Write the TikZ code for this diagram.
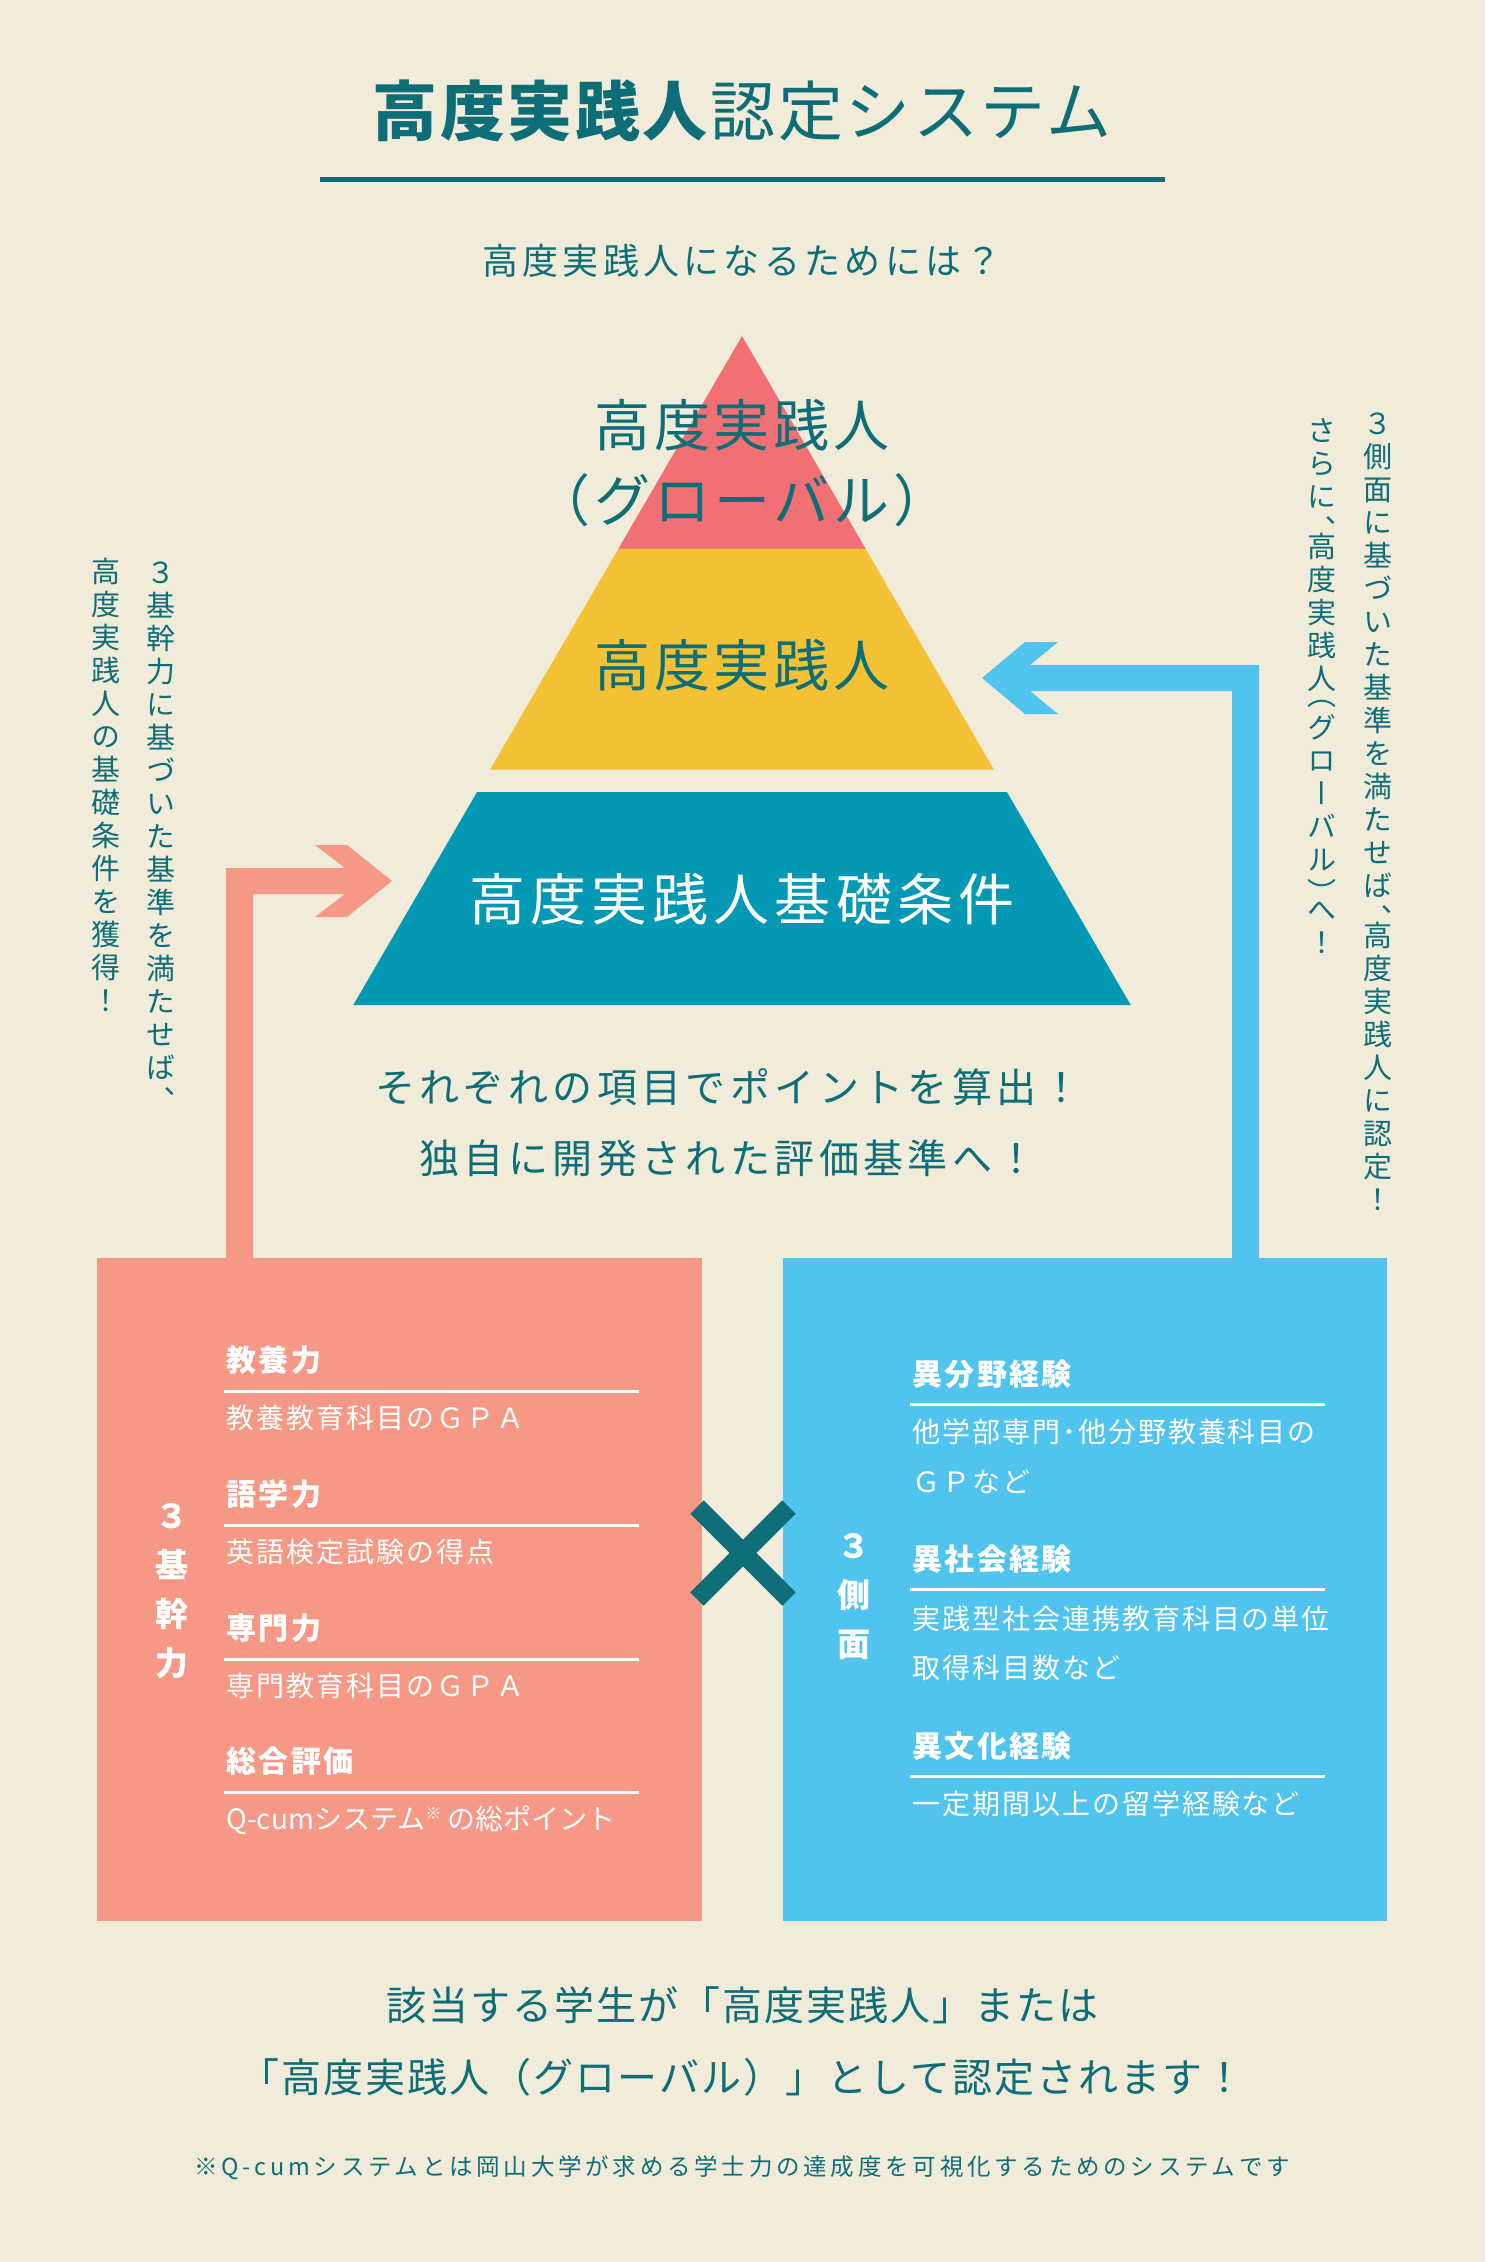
\documentclass[tikz,border=0pt]{standalone}
\usepackage{fontspec}
\setmainfont{Noto Sans CJK JP}
\newfontfamily\tatefont[RawFeature=+vert]{Noto Sans CJK JP}
\definecolor{bg}{HTML}{F1EBDA}
\definecolor{ink}{HTML}{0E6E78}
\definecolor{tred}{HTML}{F07073}
\definecolor{tyellow}{HTML}{F2C134}
\definecolor{tteal}{HTML}{0398B4}
\definecolor{salmon}{HTML}{F69886}
\definecolor{sky}{HTML}{50C3EE}
\newdimen\tatep
\def\tatecell#1#2#3{\hbox to\tatep{\hss\vrule height#2 depth#2 width0pt\smash{\lower#3\hbox{#1}}\hss}}
\def\tateloop#1{\ifx#1\relax\else
	\ifx#1、\tatecell{#1}{.25\tatep}{\dimexpr.38em+.25\tatep\relax}%
	\else\ifx#1）\tatecell{#1}{.25\tatep}{\dimexpr.38em+.25\tatep\relax}%
	\else\ifx#1（\tatecell{#1}{.25\tatep}{\dimexpr.38em-.25\tatep\relax}%
	\else\tatecell{#1}{.5\tatep}{.38em}\fi\fi\fi
	\expandafter\tateloop\fi}
\newcommand\tate[2]{\tatep=#1\relax\vbox{\offinterlineskip\tateloop#2\relax}}
\begin{document}
\begin{tikzpicture}[x=0.5pt, y=-0.5pt, line join=miter]
	\def\cx{742} \def\ay{336} \def\k{0.581}
	\tikzset{declare function = {hw(\yy)= \k*(\yy-\ay);},
		jp/.style 2 args={inner sep=0pt, text height=#1, text depth=#2},
		title/.style={jp={28.6pt}{3.9pt}, text=ink, font={\fontsize{32.5}{32.5}\selectfont\addfontfeatures{LetterSpace=4}}},
		sub/.style={jp={15.84pt}{2.16pt}, text=ink, font={\fontsize{18}{18}\selectfont\addfontfeatures{LetterSpace=12}}},
		pyr/.style={jp={24.64pt}{3.36pt}, text=ink, font={\fontsize{28}{28}\selectfont\addfontfeatures{LetterSpace=7}}},
		mid/.style={jp={17.6pt}{2.4pt}, text=ink, font={\fontsize{20}{20}\selectfont\addfontfeatures{LetterSpace=11}}},
		bottom/.style={jp={17.6pt}{2.4pt}, text=ink, font={\fontsize{20}{20}\selectfont\addfontfeatures{LetterSpace=5}}},
		foot/.style={jp={10.34pt}{1.41pt}, text=ink, font={\fontsize{11.75}{11.75}\selectfont\addfontfeatures{LetterSpace=16}}},
		head/.style={jp={13.2pt}{1.8pt}, text=white, anchor=west, font={\bfseries\fontsize{15}{15}\selectfont\addfontfeatures{LetterSpace=8}}},
		body/.style={jp={12.32pt}{1.68pt}, text=white, anchor=west, font={\fontsize{14}{14}\selectfont\addfontfeatures{LetterSpace=7}}},
		uline/.style={white, line width=1.5pt},
		vlab/.style={inner sep=0pt, text=white, font={\tatefont\bfseries\fontsize{16.5}{16.5}\selectfont}},
		side/.style={inner sep=0pt, anchor=north, text=ink, font={\tatefont\fontsize{14.5}{14.5}\selectfont}}}
	\useasboundingbox (0,0) rectangle (1485,2262);
	\fill[bg] (0,0) rectangle (1485,2262);
	\node[title] (title) at (742,111) {\textbf{高度実践人}認定システム};
	\draw[ink, line width=2.5pt] (320,180) -- (1165,180);
	\node[sub] (ask) at (742,261) {高度実践人になるためには？};
	\fill[tred] (\cx,\ay) -- ({\cx+hw(549)},549) -- ({\cx-hw(549)},549) -- cycle;
	\fill[tyellow] ({\cx-hw(549)},549) -- ({\cx+hw(549)},549) -- ({\cx+hw(769.5)},769.5) -- ({\cx-hw(769.5)},769.5) -- cycle;
	\fill[tteal] ({\cx-hw(792)},792) -- ({\cx+hw(792)},792) -- ({\cx+hw(1005)},1005) -- ({\cx-hw(1005)},1005) -- cycle;
	\node[pyr] (glob) at (742,425) {高度実践人};
	\node[pyr] (globsub) at (742,500) {（グローバル）};
	\node[pyr] (kodo) at (742,665) {高度実践人};
	\node[pyr, text=white, font={\fontsize{28}{28}\selectfont\addfontfeatures{LetterSpace=9}}] (kiso) at (742,899) {高度実践人基礎条件};
	\node[mid] (calc) at (728,1087) {それぞれの項目でポイントを算出！};
	\node[mid] (eval) at (728,1158) {独自に開発された評価基準へ！};
	\fill[salmon] (226,1258) -- (226,868) -- (345,868) -- (315,845) -- (347,845) -- (392,881) -- (347,917) -- (315,917) -- (345,894) -- (253,894) -- (253,1258) -- cycle;
	\fill[sky] (1259,1258) -- (1259,665) -- (1030,665) -- (1058,642) -- (1025,642) -- (982,678) -- (1025,714) -- (1058,714) -- (1030,691) -- (1232,691) -- (1232,1258) -- cycle;
	\fill[salmon] (97,1258) rectangle (702,1921);
	\fill[sky] (783,1258) rectangle (1387,1921);
	\draw[ink, line width=9.5pt] (697,1507) -- (789,1599) (697,1599) -- (789,1507);
	\node[vlab] (kikan) at (172,1589) {\tate{24.5pt}{３基幹力}};
	\node[vlab] (sokumen) at (854,1595) {\tate{24.5pt}{３側面}};
	\foreach \y/\hd/\bd in {1360/教養力/教養教育科目のＧＰＡ, 1494/語学力/英語検定試験の得点, 1628/専門力/専門教育科目のＧＰＡ, 1761/総合評価/{\addfontfeatures{LetterSpace=0}Q-cumシステム\raisebox{.35em}{\fontsize{8}{8}\selectfont ※} の総ポイント}}{
		\node[head] (lh\y) at (226,\y) {\hd};
		\draw[uline] (224,\y+31) -- (639,\y+31);
		\node[body] (lb\y) at (226,\y+58) {\bd};
	}
	\foreach \y/\hd in {1374/異分野経験, 1559/異社会経験, 1746/異文化経験}{
		\node[head] (rh\y) at (912,\y) {\hd};
		\draw[uline] (910,\y+30) -- (1325,\y+30);
	}
	\foreach \y/\bd in {1432/他学部専門･他分野教養科目の, 1482/ＧＰなど, 1619/実践型社会連携教育科目の単位, 1668/取得科目数など, 1804/一定期間以上の留学経験など}
		\node[body] (rb\y) at (912,\y) {\bd};
	\node[side] (lcol1) at (161,556) {\tate{16.5pt}{３基幹力に基づいた基準を満たせば、}};
	\node[side] (lcol2) at (106,555) {\tate{16.5pt}{高度実践人の基礎条件を獲得！}};
	\node[side] (rcol1) at (1378,407) {\tate{16.5pt}{３側面に基づいた基準を満たせば、高度実践人に認定！}};
	\node[side] (rcol2) at (1322,414) {\tate{16.5pt}{さらに、高度実践人（グローバル）へ！}};
	\node[bottom] (gai) at (742,2005) {該当する学生が「高度実践人」または};
	\node[bottom] (nintei) at (742,2077) {「高度実践人（グローバル）」として認定されます！};
	\node[foot] (note) at (742,2167) {※Q-cumシステムとは岡山大学が求める学士力の達成度を可視化するためのシステムです};
\end{tikzpicture}
\end{document}
